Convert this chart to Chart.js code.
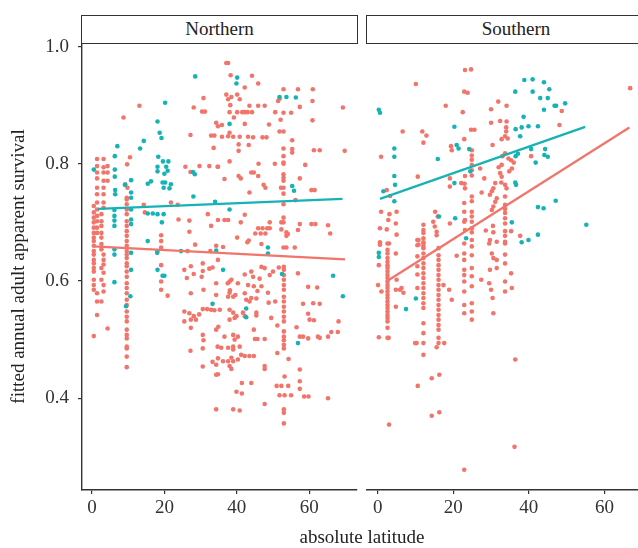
<!DOCTYPE html>
<html>
<head>
<meta charset="utf-8">
<script src="https://cdn.jsdelivr.net/npm/chart.js@4.4.1/dist/chart.umd.min.js"></script>
<style>
html,body{margin:0;padding:0;width:638px;height:548px;overflow:hidden;background:#fff;}
#wrap{position:relative;width:638px;height:548px;overflow:hidden;font-family:"Liberation Serif","DejaVu Serif",serif;}
canvas{position:absolute;top:0;}
.strip{position:absolute;top:15px;height:29px;box-sizing:border-box;border:1.5px solid #333;background:#fff;
  font-size:19px;line-height:26px;text-align:center;color:#222;}
#xtitle{position:absolute;left:262px;width:200px;top:526px;font-size:19px;line-height:22px;text-align:center;color:#222;}
</style>
</head>
<body>
<div id="wrap">
  <canvas id="north" width="362" height="548" style="left:0px"></canvas>
  <canvas id="south" width="290" height="548" style="left:362px"></canvas>
  <div class="strip" style="left:81px;width:277px;">Northern</div>
  <div class="strip" style="left:366px;width:300px;">Southern</div>
  <div id="xtitle">absolute latitude</div>
</div>
<script>
// ---------------- DATA ----------------
const panels = ["Northern", "Southern"];
const xTicks = [0, 20, 40, 60];
const yTicks = [0.4, 0.6, 0.8, 1.0];
const yTitle = "fitted annual adult apparent survival";

// fitted regression lines: [latitude, survival]
const northRedFit = [[0.4, 0.659], [69.9, 0.637]];
const northTealFit = [[1.7, 0.723], [69.2, 0.740]];
const southRedFit = [[2.5, 0.600], [66.6, 0.862]];
const southTealFit = [[0.6, 0.740], [54.9, 0.863]];

// Northern, teal group
const northTeal = [
[0.5,0.790],[6.3,0.813],[7.0,0.830],[6.3,0.790],[6.3,0.778],[6.4,0.755],[6.4,0.748],[6.2,0.721],[6.2,0.711],[6.2,0.703],[6.2,0.694],[6.2,0.654],[6.2,0.645],[6.2,0.598],
[9.1,0.764],[10.8,0.772],[10.8,0.751],[10.8,0.742],[10.8,0.722],[10.8,0.705],[10.8,0.697],[10.8,0.648],[10.8,0.619],[10.6,0.574],[9.4,0.557],
[13.3,0.826],[14.3,0.839],[15.4,0.766],[16.3,0.770],[15.4,0.715],[16.8,0.715],[18.1,0.714],[19.8,0.714],[19.3,0.700],[15.4,0.668],
[18.1,0.872],[18.7,0.853],[19.2,0.844],[20.2,0.904],[18.3,0.812],[18.1,0.795],[18.1,0.787],[19.6,0.804],[21.1,0.804],[20.5,0.795],[20.9,0.788],[20.0,0.783],
[19.5,0.768],[20.2,0.768],[19.8,0.759],[21.8,0.765],[21.4,0.758],[18.1,0.651],[18.0,0.648],[18.1,0.619],[19.5,0.609],[20.0,0.609],[24.6,0.651],
[28.5,0.949],[28.0,0.744],[28.4,0.782],[27.9,0.786],[33.3,0.561],[34.0,0.735],[34.3,0.652],
[38.0,0.868],[40.1,0.947],[39.9,0.937],[38.0,0.722],[51.8,0.914],[53.7,0.914],[56.3,0.913],[55.3,0.762],[55.8,0.754],
[48.6,0.657],[48.6,0.647],[52.5,0.612],[66.6,0.609],[69.3,0.574],[42.6,0.553],[42.6,0.538],[56.9,0.494],[36.2,0.619]
];

// Northern, red group: vertical clusters [latitude, [survival values]]
const northRedColumns = [
[0.5,[0.728,0.717,0.708,0.700,0.691,0.682,0.674,0.668,0.660,0.651,0.645,0.636,0.630,0.622,0.616,0.602,0.593,0.585,0.506]],
[1.4,[0.808,0.796,0.785,0.775,0.759,0.748,0.734,0.722,0.711,0.702,0.691,0.682,0.579,0.565,0.542]],
[3.2,[0.808,0.794,0.785,0.771,0.759,0.748,0.734,0.725,0.645,0.636,0.628,0.614,0.593,0.582]],
[2.6,[0.714,0.702,0.694,0.682,0.674,0.663,0.654,0.622,0.602,0.565]],
[4.3,[0.796,0.785,0.771,0.519]],
[9.6,[0.742,0.739,0.731,0.722,0.714,0.702,0.694,0.685,0.677,0.668,0.660,0.651,0.645,0.639,0.630,0.625,0.616,0.607,0.596,0.588,0.579,0.568,0.559,0.548,0.539,0.531,0.517,0.508,0.502,0.488,0.485,0.471,0.453]],
[52.9,[0.927,0.887,0.855,0.826,0.813,0.802,0.800,0.782,0.776,0.771,0.759,0.749,0.731,0.708,0.700,0.657]],
[53.0,[0.624,0.619,0.610,0.602,0.593,0.585,0.573,0.565,0.556,0.548,0.539,0.531,0.514,0.505,0.499,0.491,0.485,0.381,0.375,0.357]]
];
// Northern, red group: scattered points [latitude, survival]
const northRedScatter = [
[13.1,0.899],[8.7,0.879],[10.5,0.811],[9.7,0.799],[9.2,0.765],[9.8,0.759],[30.8,0.912],[28.1,0.896],[30.4,0.889],[31.2,0.889],[34.3,0.870],[27.2,0.849],
[32.9,0.848],[33.8,0.848],[33.6,0.827],[14.3,0.730],[14.6,0.717],[21.8,0.734],[23.7,0.730],[25.8,0.795],[27.2,0.786],[29.7,0.796],[32.4,0.796],[34.7,0.795],
[23.9,0.705],[26.9,0.703],[26.9,0.684],[32.0,0.714],[32.9,0.694],[28.5,0.662],[26.4,0.651],[32.7,0.651],[34.3,0.660],[19.1,0.678],[19.1,0.668],[19.1,0.657],
[37.1,0.972],[37.6,0.972],[38.3,0.951],[44.2,0.950],[42.2,0.930],[45.9,0.937],[37.1,0.918],[37.6,0.910],[38.5,0.914],[40.1,0.918],[40.8,0.910],[38.2,0.900],
[38.0,0.888],[40.1,0.888],[41.5,0.888],[42.2,0.888],[43.0,0.888],[44.2,0.888],[43.5,0.899],[45.9,0.899],[47.7,0.899],[39.2,0.879],[42.2,0.868],[48.9,0.867],
[50.6,0.888],[55.0,0.887],[51.4,0.907],[51.8,0.911],[56.9,0.927],[61.0,0.927],[57.4,0.897],[60.9,0.907],[52.1,0.875],[60.9,0.874],[69.3,0.896],[34.8,0.864],
[35.9,0.866],[38.0,0.853],[35.9,0.846],[37.6,0.847],[39.0,0.846],[40.8,0.846],[43.1,0.846],[44.5,0.845],[47.1,0.845],[48.2,0.845],[51.8,0.855],[55.3,0.840],
[40.5,0.833],[43.3,0.832],[40.5,0.822],[55.3,0.825],[55.3,0.819],[61.3,0.823],[62.9,0.823],[69.8,0.822],[38.0,0.804],[46.0,0.800],[50.5,0.800],[58.9,0.798],
[34.8,0.795],[44.0,0.785],[44.7,0.785],[40.5,0.779],[41.1,0.775],[36.6,0.774],[45.9,0.779],[47.4,0.764],[47.9,0.759],[52.2,0.759],[57.4,0.775],[60.6,0.755],
[61.5,0.755],[43.5,0.751],[56.2,0.738],[36.6,0.704],[37.6,0.704],[34.8,0.704],[41.1,0.700],[42.2,0.713],[49.1,0.700],[52.3,0.700],[57.4,0.697],[60.6,0.697],
[61.7,0.697],[65.2,0.695],[65.8,0.681],[45.9,0.690],[47.1,0.690],[48.4,0.690],[49.1,0.690],[45.1,0.681],[46.6,0.681],[47.9,0.681],[52.3,0.688],[53.7,0.683],
[54.1,0.680],[53.7,0.677],[56.9,0.687],[40.1,0.674],[42.9,0.666],[43.3,0.669],[36.2,0.658],[46.8,0.663],[53.7,0.657],[56.0,0.657],
[19.1,0.627],[19.1,0.599],[19.1,0.585],[20.9,0.575],[25.5,0.619],[26.2,0.605],[27.3,0.625],[28.1,0.612],[27.3,0.579],[30.6,0.630],[30.6,0.617],[30.8,0.585],
[32.4,0.621],[33.3,0.623],[30.3,0.607],[25.5,0.548],[25.5,0.531],[26.9,0.545],[27.3,0.534],[27.3,0.520],[28.1,0.540],[29.6,0.543],[28.7,0.534],[30.6,0.552],
[31.8,0.552],[32.9,0.551],[33.8,0.550],[30.6,0.508],[30.8,0.499],[30.6,0.485],[27.2,0.481],[30.6,0.454],[34.3,0.440],[34.3,0.381],[34.9,0.522],[34.3,0.517],
[34.7,0.488],[33.3,0.462],[34.3,0.457],[34.3,0.596],[34.3,0.576],
[34.8,0.636],[38.0,0.599],[37.5,0.596],[38.5,0.602],[40.3,0.596],[42.2,0.611],[44.0,0.616],[44.5,0.607],[46.3,0.604],[46.8,0.624],[47.7,0.622],[49.1,0.610],
[50.0,0.616],[51.6,0.623],[43.1,0.593],[44.7,0.591],[45.7,0.583],[45.4,0.570],[46.8,0.591],[48.6,0.580],[48.8,0.563],[50.6,0.565],[38.0,0.580],[37.6,0.573],
[39.0,0.573],[39.6,0.576],[38.1,0.584],[42.2,0.579],[42.6,0.568],[43.5,0.565],[44.0,0.571],[35.3,0.551],[38.0,0.551],[39.0,0.546],[38.0,0.534],[39.4,0.537],
[39.9,0.540],[41.7,0.546],[42.2,0.540],[45.4,0.546],[45.4,0.541],[49.5,0.537],[44.7,0.517],[47.7,0.501],[36.6,0.505],[39.0,0.508],[40.3,0.505],[39.4,0.500],
[39.0,0.488],[35.7,0.486],[37.6,0.486],[39.0,0.483],[38.5,0.469],[40.8,0.488],[45.0,0.501],[45.7,0.501],[34.8,0.468],[36.2,0.463],[37.6,0.463],[39.0,0.463],
[40.3,0.466],[41.2,0.474],[42.2,0.472],[43.5,0.472],[44.7,0.472],[38.0,0.455],[38.5,0.450],[34.8,0.441],[47.7,0.455],[47.7,0.450],[41.4,0.426],[44.0,0.426],
[39.9,0.411],[41.4,0.408],[39.0,0.381],[40.8,0.379],[47.7,0.390],[51.0,0.421],[52.3,0.421],[54.2,0.421],[51.8,0.405],[53.2,0.405],[55.0,0.405],[53.2,0.437],
[54.3,0.467],[51.2,0.477],[51.2,0.524],[56.9,0.613],[59.7,0.590],[62.2,0.589],[58.3,0.561],[61.1,0.562],[62.9,0.561],[59.7,0.544],[60.1,0.534],[61.3,0.533],
[56.5,0.521],[57.4,0.505],[58.3,0.505],[59.7,0.502],[62.4,0.505],[62.9,0.503],[65.2,0.505],[66.1,0.513],[67.9,0.513],[68.1,0.531],[57.4,0.449],[57.4,0.429],
[57.4,0.416],[58.6,0.403],[59.8,0.403],[65.2,0.400]
];

// Southern, teal group
const southTeal = [
[0.3,0.892],[0.6,0.887],[4.4,0.826],[4.4,0.812],[4.4,0.779],[4.6,0.764],[1.5,0.753],[4.4,0.736],[15.9,0.808],[20.3,0.863],[20.9,0.832],[21.4,0.826],
[24.2,0.825],[20.3,0.767],[24.5,0.787],[36.4,0.923],[38.8,0.943],[41.0,0.944],[41.0,0.923],[44.0,0.939],[45.4,0.927],[43.0,0.912],[45.0,0.912],[44.0,0.892],
[46.8,0.899],[47.2,0.899],[49.6,0.903],[38.6,0.880],[36.5,0.859],[38.1,0.862],[39.9,0.864],[42.4,0.864],[37.7,0.847],[40.6,0.825],[44.3,0.825],[36.5,0.813],
[37.1,0.817],[44.1,0.815],[45.0,0.812],[41.8,0.802],[36.4,0.768],[36.6,0.764],[47.1,0.737],[42.4,0.726],[43.9,0.724],[35.5,0.700],[55.2,0.696],[39.9,0.670],
[38.1,0.666],[42.4,0.679],[23.4,0.673],[16.2,0.710],[20.5,0.707],[0.3,0.648],[0.3,0.641],[10.1,0.570],[7.5,0.552]
];

// Southern, red group: vertical clusters
const southRedColumns = [
[2.6,[0.664,0.653,0.647,0.639,0.633,0.627,0.622,0.616,0.610,0.605,0.599,0.593,0.588,0.582,0.576,0.571,0.565,0.559,0.554,0.548,0.542,0.537,0.531,0.520,0.503]],
[10.5,[0.670,0.661,0.642,0.625,0.611,0.588]],
[12.1,[0.696,0.687,0.682,0.673,0.666,0.659,0.664,0.656,0.647,0.639,0.630,0.622,0.613,0.605,0.596,0.588,0.579,0.571,0.562,0.554,0.528,0.511,0.494,0.474]],
[16.1,[0.656,0.644,0.636,0.627,0.619,0.610,0.602,0.593,0.585,0.576,0.568,0.559,0.551,0.542,0.534,0.525,0.517,0.503,0.494]],
[22.9,[0.733,0.718,0.701,0.664,0.647,0.636,0.619,0.610,0.599,0.582,0.559,0.545]],
[24.9,[0.823,0.814,0.807,0.798,0.789,0.780,0.744,0.736,0.718,0.710,0.701,0.690,0.683,0.670,0.659,0.644,0.622,0.608,0.591,0.562,0.548,0.534]],
[33.7,[0.730,0.723,0.716,0.707,0.698,0.685,0.677,0.667,0.664,0.645,0.630,0.599,0.582]]
];
// Southern, red group: scattered points
const southRedScatter = [
[23.1,0.960],[24.7,0.961],[10.1,0.936],[22.9,0.923],[23.8,0.921],[66.8,0.929],[18.0,0.899],[22.5,0.888],[30.0,0.893],[31.9,0.906],[34.1,0.899],[48.7,0.890],
[30.0,0.870],[32.4,0.873],[34.1,0.872],[48.1,0.866],[24.7,0.858],[25.6,0.858],[11.8,0.855],[12.9,0.848],[12.1,0.836],[6.6,0.855],[22.9,0.842],[34.0,0.862],
[34.0,0.855],[33.7,0.847],[34.4,0.843],[32.8,0.842],[30.4,0.832],[19.6,0.823],[19.4,0.830],[0.9,0.812],[33.0,0.813],[33.7,0.818],[34.6,0.809],[35.3,0.806],
[36.0,0.802],[35.5,0.792],[34.8,0.787],[40.6,0.813],[32.8,0.798],[32.0,0.794],[32.4,0.784],[32.8,0.778],[27.1,0.792],[10.6,0.778],[19.1,0.775],[23.1,0.779],
[22.1,0.767],[23.0,0.766],[23.1,0.758],[19.1,0.761],[28.2,0.775],[32.7,0.768],[31.1,0.767],[30.6,0.758],[30.2,0.753],[29.7,0.747],[33.7,0.764],[34.1,0.758],
[33.7,0.744],[27.5,0.751],[31.5,0.741],[31.1,0.735],[30.6,0.727],[30.2,0.721],[3.3,0.745],[2.4,0.755],[0.9,0.718],[5.0,0.718],[3.1,0.714],[2.8,0.704],
[2.4,0.688],[4.8,0.698],[15.2,0.718],[15.9,0.710],[14.7,0.701],[15.1,0.693],[15.6,0.684],[15.6,0.678],[10.8,0.670],[10.8,0.662],[30.5,0.694],[30.6,0.683],
[31.5,0.667],[28.6,0.686],[35.3,0.685],[37.7,0.677],[0.6,0.690],[0.6,0.666],[0.6,0.662],[3.0,0.664],[5.0,0.679],[23.1,0.704],[23.1,0.687],[19.1,0.698],
[29.7,0.670],[0.3,0.627],[0.1,0.593],[0.3,0.504],[1.0,0.582],[4.8,0.647],[4.8,0.585],[4.8,0.556],[5.0,0.602],[5.9,0.585],[6.3,0.588],[6.8,0.580],[3.0,0.355],
[10.3,0.494],[10.6,0.421],[9.9,0.494],[15.6,0.487],[17.6,0.494],[17.4,0.593],[18.9,0.585],[19.6,0.568],[14.3,0.434],[16.3,0.440],[14.3,0.370],[16.3,0.376],
[20.9,0.643],[22.9,0.278],[27.4,0.602],[29.5,0.664],[30.2,0.647],[30.6,0.639],[31.5,0.636],[31.5,0.622],[29.5,0.596],[30.0,0.585],[30.4,0.571],[30.6,0.545],
[29.7,0.619],[35.5,0.588],[35.3,0.613],[36.4,0.466],[36.2,0.317],[2.9,0.503]
];

// ---------------- STYLE ----------------
const RED = "#F1756B";
const TEAL = "#16B3B6";
const FONT = "'Liberation Serif','DejaVu Serif',serif";
Chart.defaults.font.family = FONT;

function pairsToXY(pairs) { return pairs.map(p => ({x: p[0], y: p[1]})); }
function columnsToXY(cols) {
  const out = [];
  cols.forEach(c => c[1].forEach(v => out.push({x: c[0], y: v})));
  return out;
}

function datasets(redPts, tealPts, redFit, tealFit) {
  return [
    {type: 'line', data: pairsToXY(redFit), borderColor: RED, borderWidth: 2.3, pointRadius: 0, fill: false, order: 0},
    {type: 'line', data: pairsToXY(tealFit), borderColor: TEAL, borderWidth: 2.3, pointRadius: 0, fill: false, order: 0},
    {type: 'scatter', data: tealPts, backgroundColor: TEAL, borderWidth: 0, pointRadius: 2.3, pointHoverRadius: 2.3, order: 1},
    {type: 'scatter', data: redPts, backgroundColor: RED, borderWidth: 0, pointRadius: 2.3, pointHoverRadius: 2.3, order: 2}
  ];
}

function xScale(min, max) {
  return {
    type: 'linear', min: min, max: max,
    afterBuildTicks: s => { s.ticks = xTicks.map(v => ({value: v})); },
    afterFit: s => { s.height = 58; },
    grid: {drawOnChartArea: false, drawTicks: true, tickLength: 4, color: '#333', lineWidth: 1.2},
    border: {display: true, color: '#333', width: 1.4},
    ticks: {font: {family: FONT, size: 19}, color: '#333', padding: 3, maxRotation: 0, callback: v => String(v)}
  };
}

const yMin = 0.2434, yMax = 1.006;

new Chart(document.getElementById('north'), {
  data: {datasets: datasets(columnsToXY(northRedColumns).concat(pairsToXY(northRedScatter)), pairsToXY(northTeal), northRedFit, northTealFit)},
  options: {
    responsive: false, animation: false, devicePixelRatio: 1,
    layout: {padding: {top: 43, right: 5, left: 0, bottom: 0}},
    plugins: {legend: {display: false}, tooltip: {enabled: false}},
    scales: {
      x: xScale(-2.76, 73.2),
      y: {
        type: 'linear', min: yMin, max: yMax,
        afterBuildTicks: s => { s.ticks = yTicks.map(v => ({value: v})); },
        afterFit: s => { s.width = 82; },
        grid: {drawOnChartArea: false, drawTicks: true, tickLength: 4, color: '#333', lineWidth: 1.2},
        border: {display: true, color: '#333', width: 1.4},
        title: {display: true, text: yTitle, color: '#222', font: {family: FONT, size: 19}, padding: {top: 8, bottom: 0}},
        ticks: {font: {family: FONT, size: 19}, color: '#333', padding: 9, callback: v => Number(v).toFixed(1)}
      }
    }
  }
});

new Chart(document.getElementById('south'), {
  data: {datasets: datasets(columnsToXY(southRedColumns).concat(pairsToXY(southRedScatter)), pairsToXY(southTeal), southRedFit, southTealFit)},
  options: {
    responsive: false, animation: false, devicePixelRatio: 1,
    layout: {padding: {top: 43, right: 9, left: 5, bottom: 0}},
    plugins: {legend: {display: false}, tooltip: {enabled: false}},
    scales: {
      x: xScale(-2.83, 70.2),
      y: {type: 'linear', display: false, min: yMin, max: yMax}
    }
  }
});
</script>
</body>
</html>
